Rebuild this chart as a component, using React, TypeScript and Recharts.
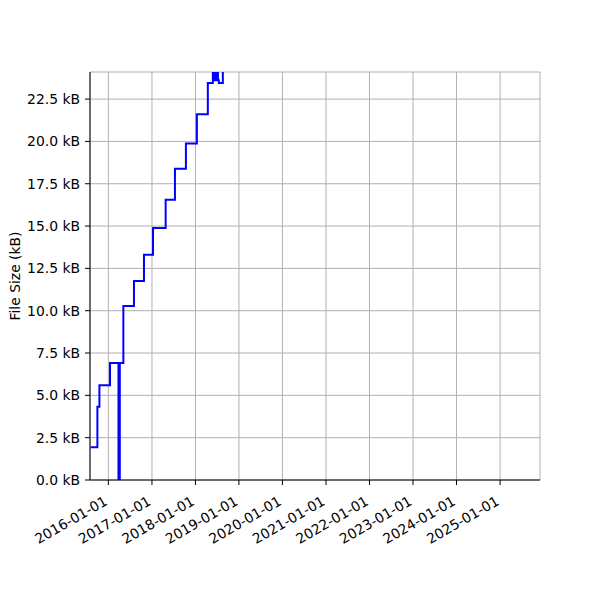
import React from "react";
import {
  LineChart,
  Line,
  XAxis,
  YAxis,
  CartesianGrid,
} from "recharts";

// commit dates and file size (kB)
const dates = [
  "2015-08-05", "2015-10-01", "2015-10-18", "2016-01-15", "2016-03-26",
  "2016-04-06", "2016-05-06", "2016-08-03", "2016-10-26", "2017-01-10",
  "2017-04-26", "2017-07-13", "2017-10-13", "2018-01-13", "2018-04-15",
  "2018-05-27", "2018-05-31", "2018-06-04", "2018-06-09", "2018-06-14",
  "2018-06-19", "2018-06-24", "2018-06-29", "2018-07-04", "2018-07-09",
  "2018-07-16", "2018-08-19", "2018-09-05",
];
const sizes = [
  1.93, 4.33, 5.59, 6.91, 0,
  6.91, 10.28, 11.75, 13.31, 14.88,
  16.56, 18.39, 19.88, 21.6, 23.45,
  24.4, 23.62, 24.4, 23.62, 24.4,
  23.62, 24.4, 23.62, 24.4, 23.62,
  23.45, 24.6, 24.6,
];

const xTickDates = [
  "2016-01-01", "2017-01-01", "2018-01-01", "2019-01-01", "2020-01-01",
  "2021-01-01", "2022-01-01", "2023-01-01", "2024-01-01", "2025-01-01",
];
const yTicks = [0, 2.5, 5, 7.5, 10, 12.5, 15, 17.5, 20, 22.5];

const xStart = "2015-07-31";
const xEnd = "2025-12-02";
const yMax = 24.1;

const toMs = (d: string) => new Date(d + "T00:00:00Z").getTime();
const fmtDate = (ms: number) => new Date(ms).toISOString().slice(0, 10);

const data = dates.map((d, i) => ({ t: toMs(d), size: sizes[i] }));
const xTicks = xTickDates.map(toMs);

const FONT = "'DejaVu Sans', sans-serif";
const FS = 13.9;

const XTick = (props: any) => {
  const { x, y, payload } = props;
  return (
    <g transform={`translate(${x},${y + 17}) rotate(-30)`}>
      <text x={0} y={0} textAnchor="end" fill="#000" fontSize={FS} fontFamily={FONT}>
        {fmtDate(payload.value)}
      </text>
    </g>
  );
};

const YLabel = () => (
  <text
    x={15}
    y={276}
    transform="rotate(-90, 15, 276)"
    textAnchor="middle"
    dominantBaseline="central"
    fill="#000"
    fontSize={FS}
    fontFamily={FONT}
  >
    File Size (kB)
  </text>
);

export default function App() {
  return (
    <div style={{ position: "absolute", left: 0, top: 0, width: 600, height: 600, background: "#fff" }}>
      <LineChart
        width={600}
        height={600}
        data={data}
        margin={{ top: 72, right: 60, bottom: 50, left: 0 }}
      >
        <CartesianGrid stroke="#b0b0b0" strokeWidth={1} />
        <XAxis
          dataKey="t"
          type="number"
          domain={[toMs(xStart), toMs(xEnd)]}
          ticks={xTicks}
          interval={0}
          height={70}
          tick={<XTick />}
          tickSize={5}
          axisLine={{ stroke: "#000" }}
          tickLine={{ stroke: "#000" }}
          allowDataOverflow
        />
        <XAxis
          xAxisId="top"
          orientation="top"
          dataKey="t"
          type="number"
          domain={[toMs(xStart), toMs(xEnd)]}
          height={0}
          tick={false}
          tickLine={false}
          axisLine={{ stroke: "#000" }}
        />
        <YAxis
          type="number"
          domain={[0, yMax]}
          ticks={yTicks}
          interval={0}
          width={90}
          tickSize={5}
          tickMargin={5}
          allowDataOverflow
          tickFormatter={(v: number) => `${v.toFixed(1)} kB`}
          tick={{ fill: "#000", fontSize: FS, fontFamily: FONT }}
          axisLine={{ stroke: "#000" }}
          tickLine={{ stroke: "#000" }}
          label={<YLabel />}
        />
        <YAxis
          yAxisId="right"
          orientation="right"
          type="number"
          domain={[0, yMax]}
          width={0}
          tick={false}
          tickLine={false}
          axisLine={{ stroke: "#000" }}
        />
        <Line
          type="stepAfter"
          dataKey="size"
          stroke="#0000ff"
          strokeWidth={2}
          dot={false}
          isAnimationActive={false}
        />
      </LineChart>
    </div>
  );
}
